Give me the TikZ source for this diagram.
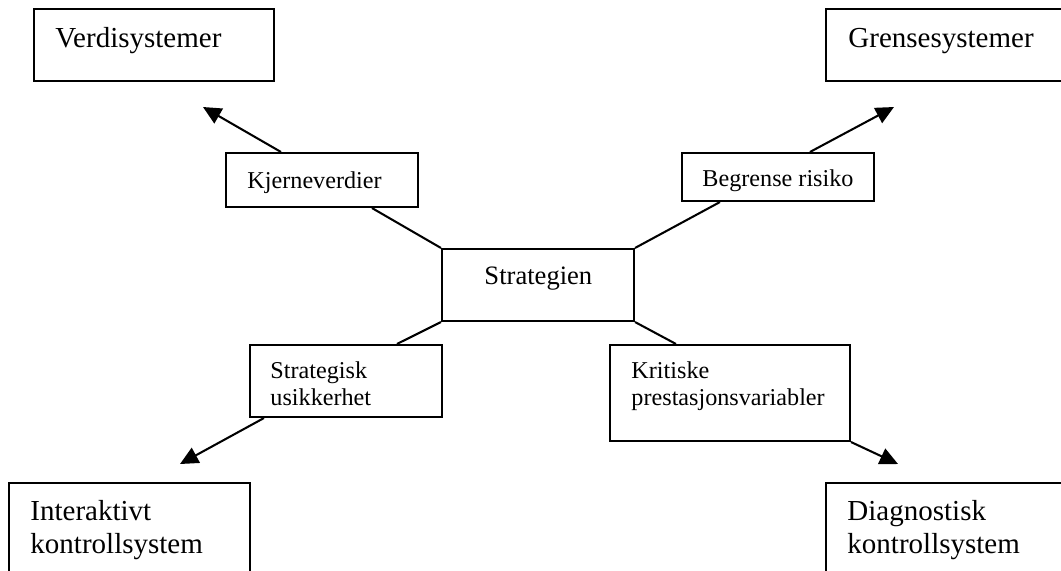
\documentclass[tikz,border=0pt]{standalone}
\usepackage{fontspec}
\setmainfont{Liberation Serif}
\usetikzlibrary{arrows.meta,fit,calc}
\begin{document}
\begin{tikzpicture}[x=0.41379pt,y=-0.41379pt,
  box/.style={draw,line width=0.85pt,inner sep=0pt},
  conn/.style={line width=0.85pt},
  arr/.style={line width=0.85pt,-{Triangle[length=7.5pt,width=7pt]}},
  lbl/.style={anchor=base west,inner sep=0pt},
  big/.style={font=\fontsize{12}{13.8}\selectfont},
  mid/.style={font=\fontsize{11}{12.6}\selectfont},
  small/.style={font=\fontsize{10}{11.5}\selectfont}]
\useasboundingbox (0,0) rectangle (1061,570);
\clip (0,0) rectangle (1061,570);
% boxes
\node[box,fit={(34,9) (274,81)}] (verdi) {};
\node[box,fit={(826,9) (1100,81)}] (grense) {};
\node[box,fit={(226,153) (418,207)}] (kj) {};
\node[box,fit={(682,153) (874,201)}] (beg) {};
\node[box,fit={(442,249) (634,321)}] (strat) {};
\node[box,fit={(250,345) (442,417)}] (stu) {};
\node[box,fit={(610,345) (850,441)}] (krit) {};
\node[box,fit={(9,483) (250,620)}] (inter) {};
\node[box,fit={(826,483) (1100,620)}] (diag) {};
% texts
\node[lbl,big] (tverdi) at (55,47) {Verdisystemer};
\node[lbl,big] (tgrense) at (848,47) {Grensesystemer};
\node[lbl,small] (tkj) at (247,188) {Kjerneverdier};
\node[lbl,small] (tbeg) at (702,186) {Begrense risiko};
\node[lbl,mid] (tstrat) at (484,284) {Strategien};
\node[lbl,small] (tstu1) at (270,378) {Strategisk};
\node[lbl,small] (tstu2) at (270,405) {usikkerhet};
\node[lbl,small] (tkrit1) at (631,378) {Kritiske};
\node[lbl,small] (tkrit2) at (631,405) {prestasjonsvariabler};
\node[lbl,big] (tinter1) at (30,520) {Interaktivt};
\node[lbl,big] (tinter2) at (30,553) {kontrollsystem};
\node[lbl,big] (tdiag1) at (847,520) {Diagnostisk};
\node[lbl,big] (tdiag2) at (847,553) {kontrollsystem};
% arrow tips
\coordinate (tipV) at (203,107);
\coordinate (tipG) at (894,107);
\coordinate (tipI) at (180,464);
\coordinate (tipD) at (898,464);
% connectors
\draw[conn] ($(kj.south west)+(147,0)$) -- (strat.north west);
\draw[conn] ($(beg.south west)+(39,0)$) -- (strat.north east);
\draw[conn] ($(stu.north west)+(148,0)$) -- (strat.south west);
\draw[conn] ($(krit.north west)+(67,0)$) -- (strat.south east);
\draw[arr] ($(kj.north west)+(56,0)$) -- (tipV);
\draw[arr] ($(beg.north west)+(129,0)$) -- (tipG);
\draw[arr] ($(stu.south west)+(15,0)$) -- (tipI);
\draw[arr] (krit.south east) -- (tipD);
\end{tikzpicture}
\end{document}
